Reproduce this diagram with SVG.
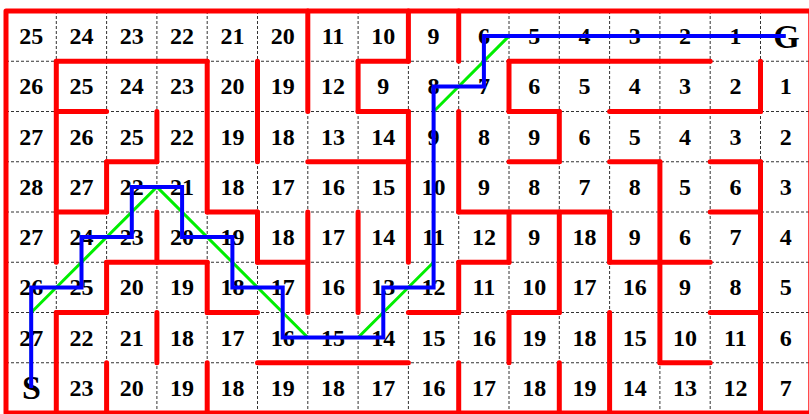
<svg xmlns="http://www.w3.org/2000/svg" width="809" height="414" viewBox="0 0 809 414">
<style>
.grid{stroke:#333;stroke-width:1;stroke-dasharray:3 2;fill:none}
.wall{stroke:#ff0000;stroke-width:5;stroke-linecap:round;stroke-linejoin:round;fill:none}
.num{font-family:"Liberation Serif","Times New Roman",serif;font-weight:bold;font-size:24px;text-anchor:middle;fill:#000}
.big{font-family:"Liberation Serif","Times New Roman",serif;font-weight:bold;font-size:34px;text-anchor:middle;fill:#000}
.green{stroke:#00ee00;stroke-width:3;fill:none;stroke-linejoin:miter}
.blue{stroke:#0000ff;stroke-width:4;fill:none;stroke-linejoin:miter}
</style>
<rect width="809" height="414" fill="#fff"/>
<g id="grid" class="grid">
<path d="M56.3 11V413M106.6 11V413M156.9 11V413M207.2 11V413M257.5 11V413M307.8 11V413M358.1 11V413M408.4 11V413M458.7 11V413M509 11V413M559.3 11V413M609.6 11V413M659.9 11V413M710.2 11V413M760.5 11V413"/>
<path d="M6 61.25H810.8M6 111.5H810.8M6 161.75H810.8M6 212H810.8M6 262.25H810.8M6 312.5H810.8M6 362.75H810.8"/>
</g>
<g id="labels">
<g id="row0" class="num"><text x="31.2" y="44.1">25</text><text x="81.5" y="44.1">24</text><text x="131.8" y="44.1">23</text><text x="182.1" y="44.1">22</text><text x="232.4" y="44.1">21</text><text x="282.7" y="44.1">20</text><text x="333" y="44.1">11</text><text x="383.3" y="44.1">10</text><text x="433.6" y="44.1">9</text><text x="483.9" y="44.1">6</text><text x="534.2" y="44.1">5</text><text x="584.5" y="44.1">4</text><text x="634.8" y="44.1">3</text><text x="685.1" y="44.1">2</text><text x="735.4" y="44.1">1</text></g>
<g id="row1" class="num"><text x="31.2" y="94.4">26</text><text x="81.5" y="94.4">25</text><text x="131.8" y="94.4">24</text><text x="182.1" y="94.4">23</text><text x="232.4" y="94.4">20</text><text x="282.7" y="94.4">19</text><text x="333" y="94.4">12</text><text x="383.3" y="94.4">9</text><text x="433.6" y="94.4">8</text><text x="483.9" y="94.4">7</text><text x="534.2" y="94.4">6</text><text x="584.5" y="94.4">5</text><text x="634.8" y="94.4">4</text><text x="685.1" y="94.4">3</text><text x="735.4" y="94.4">2</text><text x="785.7" y="94.4">1</text></g>
<g id="row2" class="num"><text x="31.2" y="144.6">27</text><text x="81.5" y="144.6">26</text><text x="131.8" y="144.6">25</text><text x="182.1" y="144.6">22</text><text x="232.4" y="144.6">19</text><text x="282.7" y="144.6">18</text><text x="333" y="144.6">13</text><text x="383.3" y="144.6">14</text><text x="433.6" y="144.6">9</text><text x="483.9" y="144.6">8</text><text x="534.2" y="144.6">9</text><text x="584.5" y="144.6">6</text><text x="634.8" y="144.6">5</text><text x="685.1" y="144.6">4</text><text x="735.4" y="144.6">3</text><text x="785.7" y="144.6">2</text></g>
<g id="row3" class="num"><text x="31.2" y="194.9">28</text><text x="81.5" y="194.9">27</text><text x="131.8" y="194.9">22</text><text x="182.1" y="194.9">21</text><text x="232.4" y="194.9">18</text><text x="282.7" y="194.9">17</text><text x="333" y="194.9">16</text><text x="383.3" y="194.9">15</text><text x="433.6" y="194.9">10</text><text x="483.9" y="194.9">9</text><text x="534.2" y="194.9">8</text><text x="584.5" y="194.9">7</text><text x="634.8" y="194.9">8</text><text x="685.1" y="194.9">5</text><text x="735.4" y="194.9">6</text><text x="785.7" y="194.9">3</text></g>
<g id="row4" class="num"><text x="31.2" y="245.1">27</text><text x="81.5" y="245.1">24</text><text x="131.8" y="245.1">23</text><text x="182.1" y="245.1">20</text><text x="232.4" y="245.1">19</text><text x="282.7" y="245.1">18</text><text x="333" y="245.1">17</text><text x="383.3" y="245.1">14</text><text x="433.6" y="245.1">11</text><text x="483.9" y="245.1">12</text><text x="534.2" y="245.1">9</text><text x="584.5" y="245.1">18</text><text x="634.8" y="245.1">9</text><text x="685.1" y="245.1">6</text><text x="735.4" y="245.1">7</text><text x="785.7" y="245.1">4</text></g>
<g id="row5" class="num"><text x="31.2" y="295.4">26</text><text x="81.5" y="295.4">25</text><text x="131.8" y="295.4">20</text><text x="182.1" y="295.4">19</text><text x="232.4" y="295.4">18</text><text x="282.7" y="295.4">17</text><text x="333" y="295.4">16</text><text x="383.3" y="295.4">13</text><text x="433.6" y="295.4">12</text><text x="483.9" y="295.4">11</text><text x="534.2" y="295.4">10</text><text x="584.5" y="295.4">17</text><text x="634.8" y="295.4">16</text><text x="685.1" y="295.4">9</text><text x="735.4" y="295.4">8</text><text x="785.7" y="295.4">5</text></g>
<g id="row6" class="num"><text x="31.2" y="345.6">27</text><text x="81.5" y="345.6">22</text><text x="131.8" y="345.6">21</text><text x="182.1" y="345.6">18</text><text x="232.4" y="345.6">17</text><text x="282.7" y="345.6">16</text><text x="333" y="345.6">15</text><text x="383.3" y="345.6">14</text><text x="433.6" y="345.6">15</text><text x="483.9" y="345.6">16</text><text x="534.2" y="345.6">19</text><text x="584.5" y="345.6">18</text><text x="634.8" y="345.6">15</text><text x="685.1" y="345.6">10</text><text x="735.4" y="345.6">11</text><text x="785.7" y="345.6">6</text></g>
<g id="row7" class="num"><text x="81.5" y="395.9">23</text><text x="131.8" y="395.9">20</text><text x="182.1" y="395.9">19</text><text x="232.4" y="395.9">18</text><text x="282.7" y="395.9">19</text><text x="333" y="395.9">18</text><text x="383.3" y="395.9">17</text><text x="433.6" y="395.9">16</text><text x="483.9" y="395.9">17</text><text x="534.2" y="395.9">18</text><text x="584.5" y="395.9">19</text><text x="634.8" y="395.9">14</text><text x="685.1" y="395.9">13</text><text x="735.4" y="395.9">12</text><text x="785.7" y="395.9">7</text></g>
<g id="start"><text class="big" x="31.5" y="398.5">S</text></g>
<g id="goal"><text class="big" x="786.5" y="47.8">G</text></g>
</g>
<g id="walls" class="wall">
<rect x="6" y="11" width="804.8" height="402"/>
<path d="M56.3 61.25H207.2M358.1 61.25H408.4M509 61.25H710.2"/>
<path d="M56.3 111.5H106.6M358.1 111.5H408.4M509 111.5H559.3M609.6 111.5H760.5"/>
<path d="M106.6 161.75H156.9M307.8 161.75H408.4M509 161.75H559.3M609.6 161.75H659.9M710.2 161.75H760.5"/>
<path d="M56.3 212H106.6M207.2 212H257.5M458.7 212H609.6M710.2 212H760.5"/>
<path d="M106.6 262.25H207.2M257.5 262.25H307.8M458.7 262.25H509M609.6 262.25H710.2"/>
<path d="M56.3 312.5H106.6M207.2 312.5H257.5M408.4 312.5H458.7M509 312.5H559.3M710.2 312.5H760.5"/>
<path d="M257.5 362.75H408.4M659.9 362.75H710.2"/>
<path d="M56.3 61.25V262.25M56.3 312.5V413"/>
<path d="M106.6 161.75V212M106.6 262.25V312.5M106.6 362.75V413"/>
<path d="M156.9 111.5V161.75M156.9 212V262.25M156.9 312.5V362.75"/>
<path d="M207.2 61.25V212M207.2 262.25V312.5M207.2 362.75V413"/>
<path d="M257.5 61.25V161.75M257.5 212V262.25"/>
<path d="M307.8 11V111.5M307.8 212V312.5"/>
<path d="M358.1 61.25V111.5M358.1 212V312.5"/>
<path d="M408.4 11V61.25M408.4 111.5V262.25"/>
<path d="M458.7 11V61.25M458.7 111.5V212M458.7 262.25V312.5M458.7 362.75V413"/>
<path d="M509 61.25V111.5M509 212V262.25M509 312.5V362.75"/>
<path d="M559.3 111.5V161.75M559.3 212V312.5M559.3 362.75V413"/>
<path d="M609.6 212V262.25M609.6 312.5V413"/>
<path d="M659.9 161.75V362.75"/>
<path d="M760.5 61.25V111.5M760.5 161.75V413"/>
</g>
<g id="connectors">
<polyline id="any-angle-path" class="green" points="31.2,387.9 31.2,312.5 156.9,186.9 307.8,337.6 358.1,337.6 433.6,262.25 433.6,111.5 509,36.1 785.7,36.1"/>
<polyline id="grid-path" class="blue" points="31.2,387.9 31.2,287.4 81.5,287.4 81.5,237.1 131.8,237.1 131.8,186.9 182.1,186.9 182.1,237.1 232.4,237.1 232.4,287.4 282.7,287.4 282.7,337.6 383.3,337.6 383.3,287.4 433.6,287.4 433.6,86.4 483.9,86.4 483.9,36.1 785.7,36.1"/>
</g>
</svg>
